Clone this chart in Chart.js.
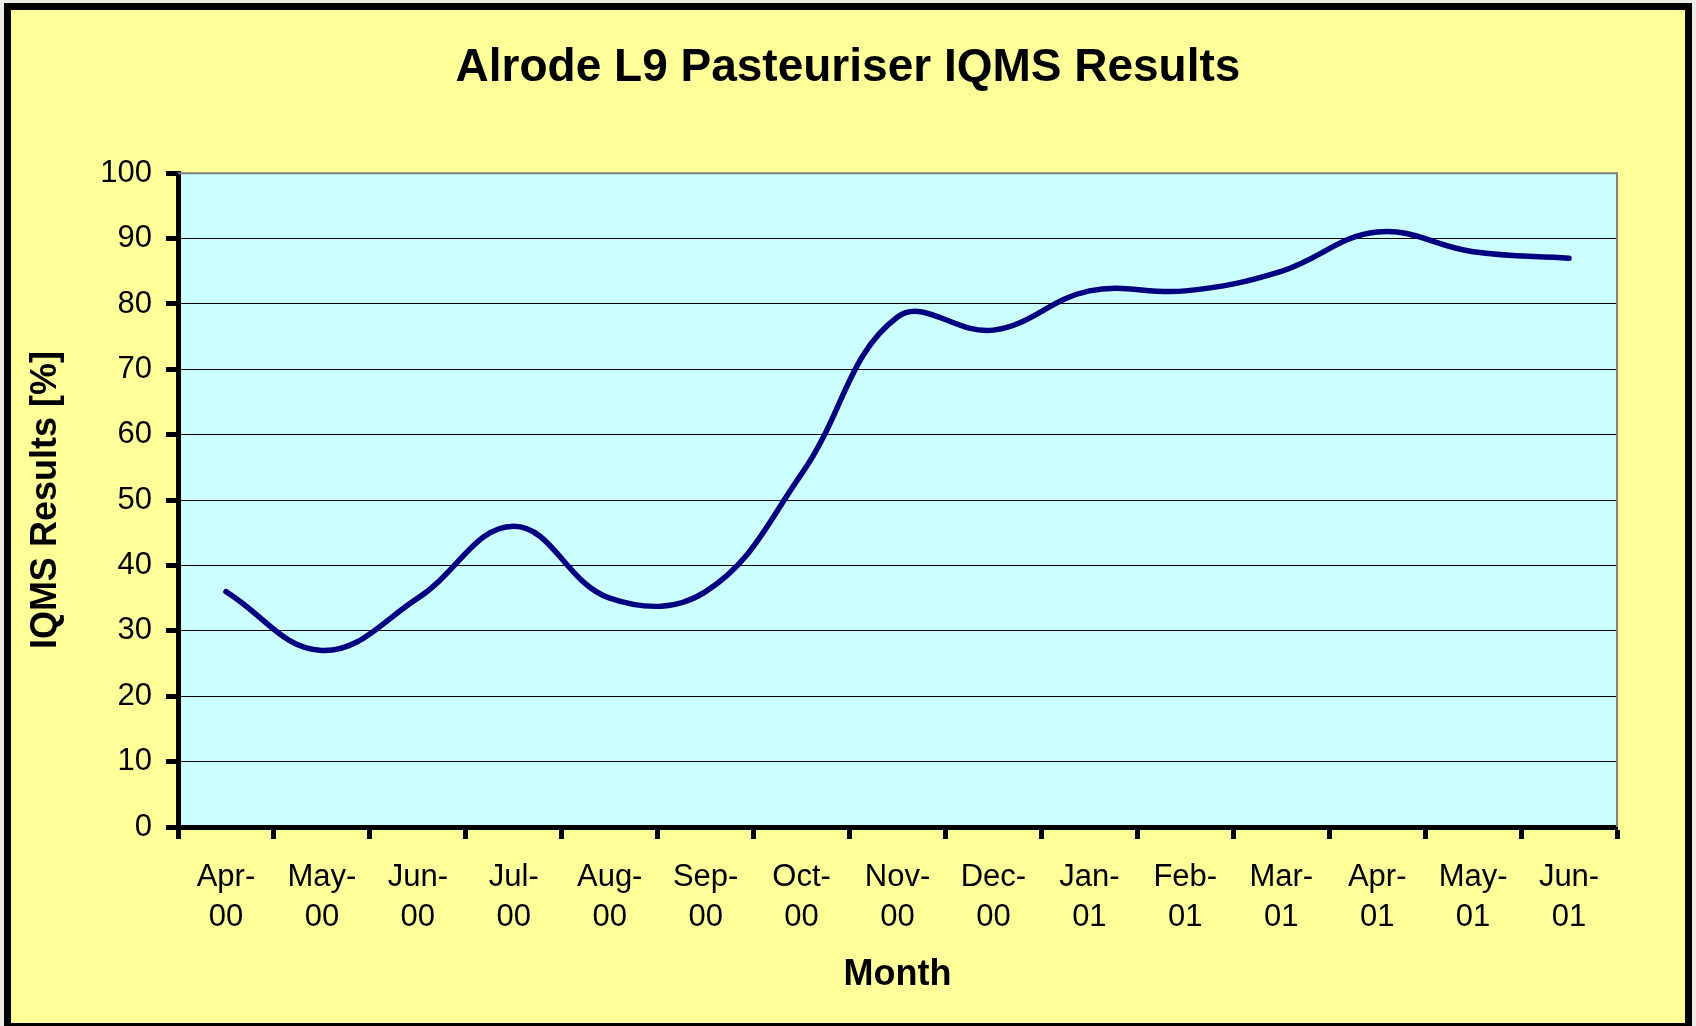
<!DOCTYPE html>
<html>
<head>
<meta charset="utf-8">
<script src="https://cdn.jsdelivr.net/npm/chart.js@4.4.1/dist/chart.umd.min.js"></script>
<style>
  html, body { margin: 0; padding: 0; background: #ecebe6; width: 1696px; height: 1026px; overflow: hidden; }
  #frame { position: absolute; left: 4px; top: 3px; width: 1688px; height: 1027px; box-sizing: border-box; border: 7px solid #000; background: #ffff99; }
  #chart { position: absolute; left: 0; top: 0; z-index: 2; }
</style>
</head>
<body>
<div id="frame"></div>
<canvas id="chart" width="1696" height="1026"></canvas>
<script>
// values
const months = [
  ['Apr-', '00'], ['May-', '00'], ['Jun-', '00'], ['Jul-', '00'], ['Aug-', '00'],
  ['Sep-', '00'], ['Oct-', '00'], ['Nov-', '00'], ['Dec-', '00'], ['Jan-', '01'],
  ['Feb-', '01'], ['Mar-', '01'], ['Apr-', '01'], ['May-', '01'], ['Jun-', '01']
];
const iqmsResults = [36, 27, 35, 46, 35, 36, 54, 78, 76, 82, 82, 85, 91, 88, 87];
const yMin = 0;
const yMax = 100;
const yStep = 10;

const FONT = '"Liberation Sans", Arial, sans-serif';

// cyan plot area with a grey frame on top/right, like the Excel original
const plotArea = {
  id: 'plotArea',
  beforeDraw(chart) {
    const { ctx, chartArea: a } = chart;
    ctx.save();
    ctx.fillStyle = '#ccffff';
    ctx.fillRect(a.left, a.top, a.right - a.left, a.bottom - a.top);
    ctx.restore();
  },
  beforeDatasetsDraw(chart) {
    const { ctx, chartArea: a } = chart;
    ctx.save();
    ctx.strokeStyle = '#808080';
    ctx.lineWidth = 2;
    ctx.beginPath();
    ctx.moveTo(a.left, a.top);
    ctx.lineTo(a.right, a.top);
    ctx.lineTo(a.right, a.bottom);
    ctx.stroke();
    ctx.restore();
  }
};

const ctx = document.getElementById('chart').getContext('2d');
new Chart(ctx, {
  type: 'line',
  data: {
    labels: months,
    datasets: [{
      label: 'IQMS Results',
      data: iqmsResults,
      borderColor: '#000080',
      borderWidth: 5.5,
      borderCapStyle: 'round',
      borderJoinStyle: 'round',
      tension: 0.4,
      pointRadius: 0,
      fill: false
    }]
  },
  options: {
    responsive: false,
    animation: false,
    devicePixelRatio: 1,
    layout: { padding: { left: 79, right: 79, top: 10, bottom: 10 } },
    plugins: {
      legend: { display: false },
      tooltip: { enabled: false },
      title: {
        display: true,
        text: 'Alrode L9 Pasteuriser IQMS Results',
        color: '#000',
        font: { family: FONT, size: 46, weight: 'bold', lineHeight: 1.2 },
        padding: { top: 31, bottom: 77 }
      }
    },
    scales: {
      x: {
        offset: true,
        afterFit: (s) => { s.height = 189; },
        grid: {
          offset: true,
          drawOnChartArea: false,
          drawTicks: true,
          tickLength: 12,
          tickWidth: 5,
          tickColor: '#000'
        },
        border: { display: true, color: '#000', width: 5 },
        ticks: {
          color: '#000',
          font: { family: FONT, size: 31, lineHeight: 1.29 },
          padding: 18,
          maxRotation: 0,
          autoSkip: false
        },
        title: {
          display: true,
          text: 'Month',
          color: '#000',
          font: { family: FONT, size: 36, weight: 'bold', lineHeight: 1.2 },
          padding: { top: 0, bottom: 19 }
        }
      },
      y: {
        min: yMin,
        max: yMax,
        afterFit: (s) => { s.width = 99; },
        grid: {
          color: '#000',
          lineWidth: 1,
          tickLength: 12,
          tickWidth: 5,
          tickColor: '#000'
        },
        border: { display: true, color: '#000', width: 5 },
        ticks: {
          stepSize: yStep,
          color: '#000',
          font: { family: FONT, size: 31 },
          padding: 14
        },
        title: {
          display: true,
          text: 'IQMS Results [%]',
          color: '#000',
          font: { family: FONT, size: 36, weight: 'bold', lineHeight: 1.2 },
          padding: { top: -55, bottom: 0 }
        }
      }
    }
  },
  plugins: [plotArea]
});
</script>
</body>
</html>
